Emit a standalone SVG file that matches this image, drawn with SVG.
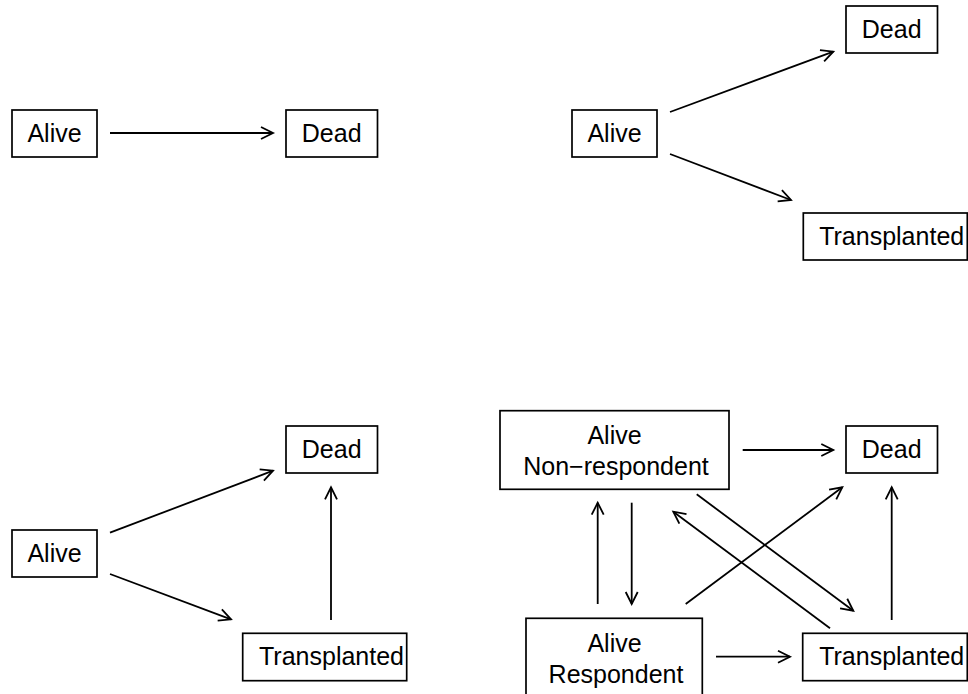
<svg xmlns="http://www.w3.org/2000/svg" width="968" height="694" viewBox="0 0 968 694">
<style>
  .box { fill: #ffffff; stroke: #000000; stroke-width: 1.7; }
  .lbl { font-family: "Liberation Sans", Arial, Helvetica, sans-serif; font-size: 25px; fill: #000000; text-anchor: middle; }
  .edge { stroke: #000000; stroke-width: 1.8; fill: none; marker-end: url(#arr); }
</style>
<defs>
  <marker id="arr" markerUnits="userSpaceOnUse" markerWidth="24" markerHeight="24" refX="0" refY="0" orient="auto" overflow="visible">
    <path d="M-12,-6 L0,0 L-12,6" fill="none" stroke="#000000" stroke-width="1.8"/>
  </marker>
</defs>
<rect width="968" height="694" fill="#ffffff"/>

<!-- Panel 1 -->
<g id="p1-alive"><rect class="box" x="12" y="110" width="85" height="47"/><text class="lbl" x="54.5" y="142">Alive</text></g>
<g id="p1-dead"><rect class="box" x="286" y="110" width="91.5" height="47"/><text class="lbl" x="331.7" y="142">Dead</text></g>

<!-- Panel 2 -->
<g id="p2-alive"><rect class="box" x="572" y="110" width="85" height="47"/><text class="lbl" x="614.5" y="142">Alive</text></g>
<g id="p2-dead"><rect class="box" x="846" y="6" width="91.5" height="47"/><text class="lbl" x="891.7" y="38">Dead</text></g>
<g id="p2-trans"><rect class="box" x="803.3" y="213" width="164" height="47"/><text class="lbl" x="891.7" y="245">Transplanted</text></g>

<!-- Panel 3 -->
<g id="p3-dead"><rect class="box" x="286" y="426" width="91.5" height="47"/><text class="lbl" x="331.7" y="458">Dead</text></g>
<g id="p3-alive"><rect class="box" x="12" y="530" width="85" height="47"/><text class="lbl" x="54.5" y="562">Alive</text></g>
<g id="p3-trans"><rect class="box" x="242.7" y="633.3" width="164" height="47.4"/><text class="lbl" x="331.5" y="665">Transplanted</text></g>

<!-- Panel 4 -->
<g id="p4-nonresp"><rect class="box" x="500" y="410.7" width="229" height="78.6"/><text class="lbl" x="614.5" y="444">Alive</text><text class="lbl" x="616" y="475">Non−respondent</text></g>
<g id="p4-dead"><rect class="box" x="846" y="426" width="91.5" height="47"/><text class="lbl" x="891.7" y="458">Dead</text></g>
<g id="p4-resp"><rect class="box" x="526" y="618.3" width="176.3" height="78.6"/><text class="lbl" x="614.5" y="651.5">Alive</text><text class="lbl" x="616" y="682.5">Respondent</text></g>
<g id="p4-trans"><rect class="box" x="802.7" y="633.3" width="164.6" height="47.4"/><text class="lbl" x="891.7" y="665">Transplanted</text></g>

<g id="connectors">
  <line class="edge" x1="110" y1="133" x2="273" y2="133"/>

  <line class="edge" x1="670" y1="112" x2="833.3" y2="51.7"/>
  <line class="edge" x1="670" y1="154" x2="791" y2="200"/>

  <line class="edge" x1="110" y1="532.7" x2="273" y2="470.7"/>
  <line class="edge" x1="110" y1="574" x2="231" y2="619.3"/>
  <line class="edge" x1="331" y1="620" x2="331" y2="487.3"/>

  <line class="edge" x1="742.7" y1="450" x2="833.3" y2="450"/>
  <line class="edge" x1="631.7" y1="502.7" x2="631.7" y2="604"/>
  <line class="edge" x1="597.7" y1="604" x2="597.7" y2="502.7"/>
  <line class="edge" x1="696.7" y1="494.3" x2="853.3" y2="610.7"/>
  <line class="edge" x1="830" y1="628.3" x2="673.3" y2="511.7"/>
  <line class="edge" x1="685.7" y1="604" x2="842.3" y2="487.3"/>
  <line class="edge" x1="716" y1="656.7" x2="790" y2="656.7"/>
  <line class="edge" x1="891.7" y1="620" x2="891.7" y2="487.3"/>
</g>
</svg>
